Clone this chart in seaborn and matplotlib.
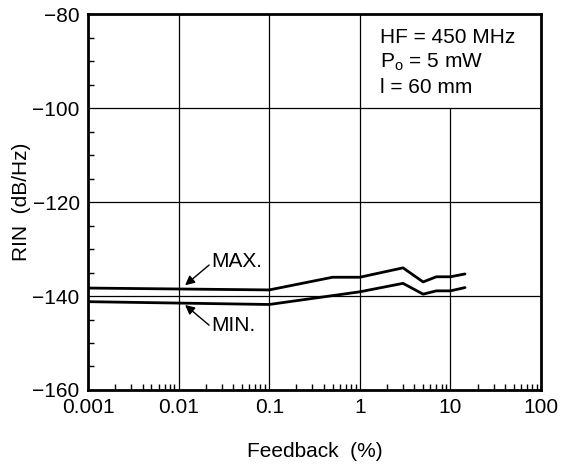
import numpy as np
import pandas as pd
import matplotlib
matplotlib.use("Agg")
import matplotlib.pyplot as plt
import seaborn as sns
from matplotlib.ticker import LogLocator, MultipleLocator, FixedLocator, FixedFormatter

# data
feedback_max = [0.001, 0.1, 0.5, 1.0, 3.0, 5.0, 7.0, 10.0, 14.5]
rin_max = [-138.3, -138.7, -136.0, -136.0, -134.0, -137.0, -135.9, -135.9, -135.3]
feedback_min = [0.001, 0.1, 1.0, 3.0, 5.0, 7.0, 10.0, 14.5]
rin_min = [-141.2, -141.8, -139.1, -137.3, -139.6, -138.9, -138.9, -138.2]

x_ticks = [0.001, 0.01, 0.1, 1, 10, 100]
x_labels = ["0.001", "0.01", "0.1", "1", "10", "100"]
y_ticks = [-160, -140, -120, -100, -80]
info_lines = ["HF = 450 MHz", r"P$_{\mathregular{o}}$ = 5 mW", "l = 60 mm"]

sns.set_theme(style="white")
plt.rcParams["font.family"] = ["Liberation Sans", "DejaVu Sans"]
plt.rcParams["mathtext.fontset"] = "custom"
plt.rcParams["mathtext.rm"] = "Liberation Sans"
plt.rcParams["text.color"] = "black"
plt.rcParams["axes.labelcolor"] = "black"

FS = 15

df = pd.concat([
    pd.DataFrame({"fb": feedback_max, "rin": rin_max, "curve": "MAX."}),
    pd.DataFrame({"fb": feedback_min, "rin": rin_min, "curve": "MIN."}),
])

fig = plt.figure(figsize=(5.62, 4.68), dpi=100)
ax = fig.add_axes([0.1566, 0.1667, 0.806, 0.803])

# grid drawn by hand so the info box cell stays clear
for yv in [-140, -120, -100]:
    ax.axhline(yv, color="black", lw=0.9, zorder=1)
for xv in [0.01, 0.1, 1]:
    ax.axvline(xv, color="black", lw=0.9, zorder=1)
ax.axvline(10, ymax=0.75, color="black", lw=0.9, zorder=1)

sns.lineplot(data=df, x="fb", y="rin", units="curve", estimator=None,
             color="black", lw=2.0, sort=False, legend=False, ax=ax, zorder=3)

ax.set_xscale("log")
ax.set_xlim(0.001, 100)
ax.set_ylim(-160, -80)

ax.xaxis.set_major_locator(FixedLocator(x_ticks))
ax.xaxis.set_major_formatter(FixedFormatter(x_labels))
ax.xaxis.set_minor_locator(LogLocator(base=10, subs=np.arange(2, 10), numticks=20))
ax.yaxis.set_major_locator(FixedLocator(y_ticks))
ax.yaxis.set_minor_locator(MultipleLocator(5))

ax.tick_params(axis="both", which="both", direction="in", labelsize=FS,
               colors="black", top=False, right=False, bottom=True, left=True)
ax.tick_params(axis="both", which="major", length=0, pad=6)
ax.tick_params(axis="both", which="minor", length=4.5, width=1.0)
ax.xaxis.set_tick_params(which="minor", labelbottom=False)

for sp in ax.spines.values():
    sp.set_color("black")
    sp.set_linewidth(2.0)

ax.set_xlabel("Feedback  (%)", fontsize=FS, labelpad=18)
ax.set_ylabel("RIN  (dB/Hz)", fontsize=FS, labelpad=1)

# info text
for i, line in enumerate(info_lines):
    ax.text(0.645, 0.938 - i * 0.067, line, transform=ax.transAxes,
            fontsize=FS, va="center", ha="left")

# arrows and their labels
arrow = dict(arrowstyle="-|>", color="black", lw=1.0,
             shrinkA=0, shrinkB=0, mutation_scale=14)
ax.annotate("", xy=(0.0118, -137.7), xytext=(0.0217, -133.4), arrowprops=arrow)
ax.annotate("", xy=(0.0118, -141.9), xytext=(0.0217, -146.2), arrowprops=arrow)
ax.text(0.0227, -132.7, "MAX.", fontsize=FS, va="center", ha="left")
ax.text(0.0227, -146.3, "MIN.", fontsize=FS, va="center", ha="left")

fig.savefig("out.png", dpi=100)
